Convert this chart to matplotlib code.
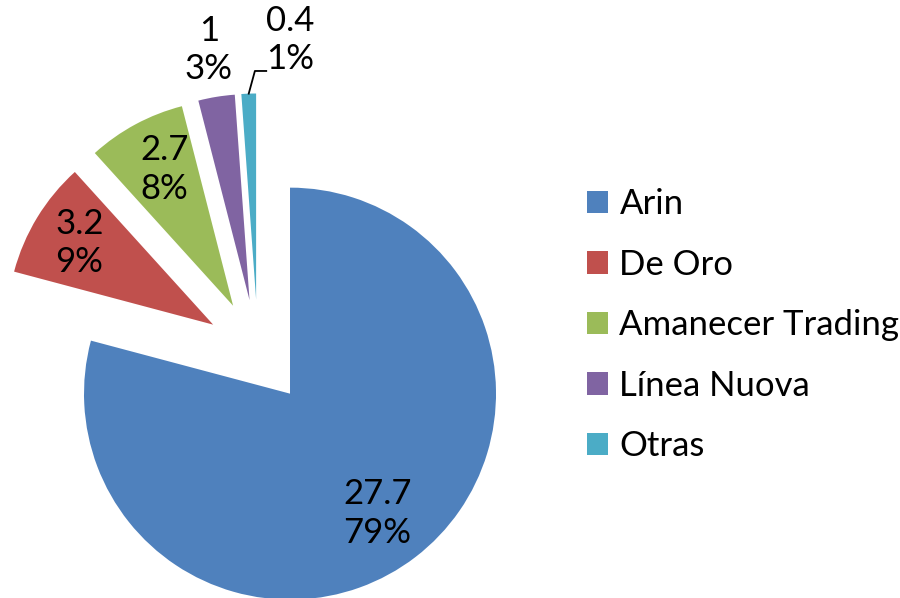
import matplotlib
matplotlib.use('Agg')
import matplotlib.pyplot as plt
import numpy as np

# Data
empresas = ['Arin', 'De Oro', 'Amanecer Trading', 'Línea Nuova', 'Otras']
valores = [27.7, 3.2, 2.7, 1, 0.4]
colores = ['#4F81BD', '#C0504D', '#9BBB59', '#8064A2', '#4BACC6']

# label distance from exploded wedge centre (in radii) and extra angle shift
dist_label = [0.72, 0.76, 0.74, 1.23, 1.27]
shift_label = [-1.5, 0.0, -1.5, 0.0, -9.5]

plt.rcParams['font.family'] = ['Lato', 'DejaVu Sans']
fsize = 25

fig = plt.figure(figsize=(9, 5.98), dpi=100)
ax = fig.add_axes([0, 0, 1, 1])

explode = [0.255] * len(valores)
wedges, _ = ax.pie(valores, colors=colores, explode=explode, startangle=90,
                   counterclock=False, radius=1)

total = sum(valores)
for i, w in enumerate(wedges):
    mid = np.deg2rad((w.theta1 + w.theta2) / 2)
    cx = explode[i] * np.cos(mid)
    cy = explode[i] * np.sin(mid)
    ang = mid + np.deg2rad(shift_label[i])
    tx = cx + dist_label[i] * np.cos(ang)
    ty = cy + dist_label[i] * np.sin(ang)
    txt = f'{valores[i]:g}\n{valores[i] / total * 100:.0f}%'
    ax.text(tx, ty, txt, ha='center', va='center', fontsize=fsize,
            linespacing=1.25)
    if i == len(valores) - 1:
        # leader line for the small slice
        sx = cx + np.cos(mid)
        sy = cy + np.sin(mid)
        ax.plot([sx, sx + 0.03, sx + 0.085], [sy, sy + 0.11, sy + 0.11],
                color='black', lw=1.3, clip_on=False)

ax.set_xlim(-258 / 206, 642 / 206)
ax.set_ylim(-246 / 206, 352 / 206)
ax.axis('off')

leg = ax.legend(wedges, empresas, loc='center left',
                bbox_to_anchor=(0.652, 0.456), bbox_transform=fig.transFigure,
                frameon=False, fontsize=fsize, handlelength=0.62,
                handleheight=0.62, handletextpad=0.32, labelspacing=0.82,
                borderpad=0, borderaxespad=0)

fig.savefig('out.png', dpi=100)
